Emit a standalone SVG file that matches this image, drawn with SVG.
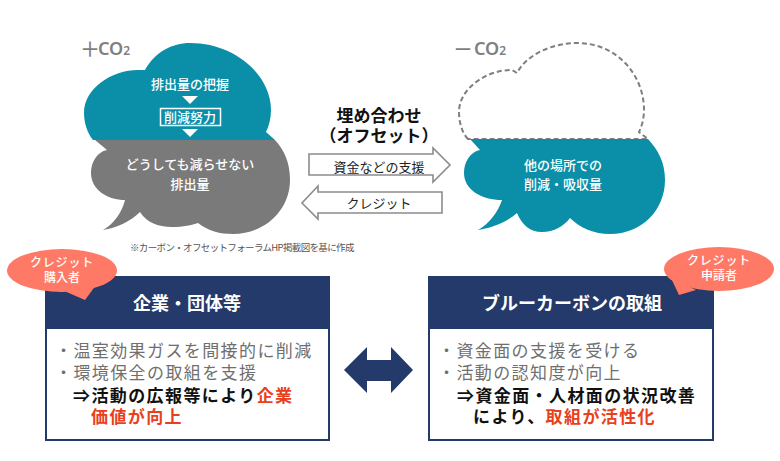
<svg xmlns="http://www.w3.org/2000/svg" width="780" height="461" viewBox="0 0 780 461">
<style>
text{font-family:"Noto Sans CJK JP","Noto Sans",sans-serif}
.m{text-anchor:middle}
.w{fill:#fff;font-weight:500}
.c{fill:#0b8fa8}
.co{font-family:"Noto Sans","Open Sans",sans-serif;fill:#7f7f7f;font-weight:600;font-size:18px}
.s{font-family:"Noto Sans CJK JP",sans-serif;fill:#7f7f7f;font-size:20px;font-weight:500}
.b{font-size:17px;fill:#6f6f6f;letter-spacing:1.4px}
.k{font-size:17px;fill:#111;font-weight:700;letter-spacing:1.4px}
.r{fill:#e8401c}
.h{font-size:18px;fill:#fff;font-weight:700}
.box{fill:#fff;stroke:#243a6b;stroke-width:2}
.hd{fill:#243a6b}
.o{fill:#ff7a66}
.a{fill:#fff;stroke:#8c8c8c;stroke-width:1.6}
</style>
<rect width="780" height="461" fill="#fff"/>
<g id="connectors">
<path id="support-arrow" class="a" d="M309 154H433V148L450 165L433 182V175H309Z"/>
<path id="credit-arrow" class="a" d="M442 192H318V186L302 203L318 219V213H442Z"/>
<path id="exchange-arrow" fill="#243a6b" d="M344 370L367 347V360H391V347L413 370L391 393V381H367V393Z"/>
</g>
<g id="source-cloud">
<path class="c" d="M93 140C87 133 84 122 84 113C84 88 112 70 138 70C141 70 143 70 145 70C155 52 172 43 190 43C235 43 271 75 271 110C271 118 269 126 266 132L275 140Z"/>
<path fill="#7a7a7a" d="M95 140L107 150C97 152 91 162 91 173C91 190 108 200 125 200C122 212 114 224 103 230C116 228 130 222 140 212C146 222 158 227 172 227C183 227 192 225 198 223C208 231 220 234 233 234C265 234 290 210 290 180C290 162 284 150 275 140Z"/>
<text class="m w" x="190" y="89" font-size="13">排出量の把握</text>
<path fill="#fff" d="M182 96H198L190 104Z"/>
<rect x="160.500" y="108.500" width="60" height="17" fill="none" stroke="#fff" stroke-width="1.500"/>
<text class="m w" x="190" y="122" font-size="13">削減努力</text>
<path fill="#fff" d="M182 129H198L190 137Z"/>
<text class="m w" x="190" y="169" font-size="13">どうしても減らせない</text>
<text class="m w" x="190" y="189" font-size="13">排出量</text>
</g>
<g id="offset-cloud">
<path fill="none" stroke="#7f7f7f" stroke-width="2" stroke-dasharray="5 3" d="M468 139C462 133 459 122 459 112C459 88 487 70 511 70C513 70 515 72 517 73C527 54 553 43 577 43C617 43 644 75 644 110C644 118 642 126 639 132L648 139Z"/>
<path class="c" d="M470 139L480 150C470 152 464 162 464 173C464 190 482 200 502 200C498 212 489 224 478 230C492 228 507 222 517 213C522 225 530 232 542 232C554 232 564 226 570 218C580 228 594 234 610 234C642 234 665 210 665 180C665 162 658 150 648 139Z"/>
<text class="m w" x="563" y="170" font-size="13">他の場所での</text>
<text class="m w" x="563" y="189" font-size="13">削減・吸収量</text>
</g>
<g id="co2-labels">
<text class="s" x="80" y="56.500">＋</text>
<text class="co" x="98" y="55">CO<tspan font-size="12">2</tspan></text>
<text class="s" x="453" y="56.500">－</text>
<text class="co" x="474" y="55">CO<tspan font-size="12">2</tspan></text>
</g>
<g id="offset-label">
<text class="m" x="379" y="122" font-size="17" font-weight="700" fill="#111">埋め合わせ</text>
<text class="m" x="379" y="142" font-size="17" font-weight="700" fill="#111">（オフセット）</text>
<text class="m" x="379" y="172" font-size="13" fill="#222">資金などの支援</text>
<text class="m" x="379" y="208" font-size="13" fill="#222">クレジット</text>
<text x="130" y="251" font-size="9.500" letter-spacing="-0.650" fill="#555">※カーボン・オフセットフォーラムHP掲載図を基に作成</text>
</g>
<g id="company">
<rect class="box" x="46" y="277" width="283" height="163"/>
<rect class="hd" x="45" y="276" width="285" height="53"/>
<text class="m h" x="187" y="310">企業・団体等</text>
<text class="b" x="55" y="357">・温室効果ガスを間接的に削減</text>
<text class="b" x="55" y="379">・環境保全の取組を支援</text>
<text class="k" x="73" y="402">⇒活動の広報等により<tspan class="r">企業</tspan></text>
<text class="k r" x="91" y="423">価値が向上</text>
</g>
<g id="buyer-tag">
<ellipse class="o" cx="62" cy="270.500" rx="55" ry="21.500"/>
<path class="o" d="M62 290L85 300L96 285Z"/>
<text class="m w" x="62" y="267" font-size="12" letter-spacing="0.800">クレジット</text>
<text class="m w" x="62" y="282" font-size="12">購入者</text>
</g>
<g id="bluecarbon">
<rect class="box" x="429" y="277" width="284" height="163"/>
<rect class="hd" x="428" y="276" width="286" height="53"/>
<text class="m h" x="572" y="310">ブルーカーボンの取組</text>
<text class="b" x="438" y="357">・資金面の支援を受ける</text>
<text class="b" x="438" y="379">・活動の認知度が向上</text>
<text class="k" x="457" y="402">⇒資金面・人材面の状況改善</text>
<text class="k" x="473" y="423">により、<tspan class="r">取組が活性化</tspan></text>
</g>
<g id="applicant-tag">
<ellipse class="o" cx="719" cy="269" rx="55" ry="22"/>
<path class="o" d="M671 278L679 295L696 290Z"/>
<text class="m w" x="719" y="265" font-size="12" letter-spacing="0.800">クレジット</text>
<text class="m w" x="719" y="280" font-size="12">申請者</text>
</g>
</svg>
